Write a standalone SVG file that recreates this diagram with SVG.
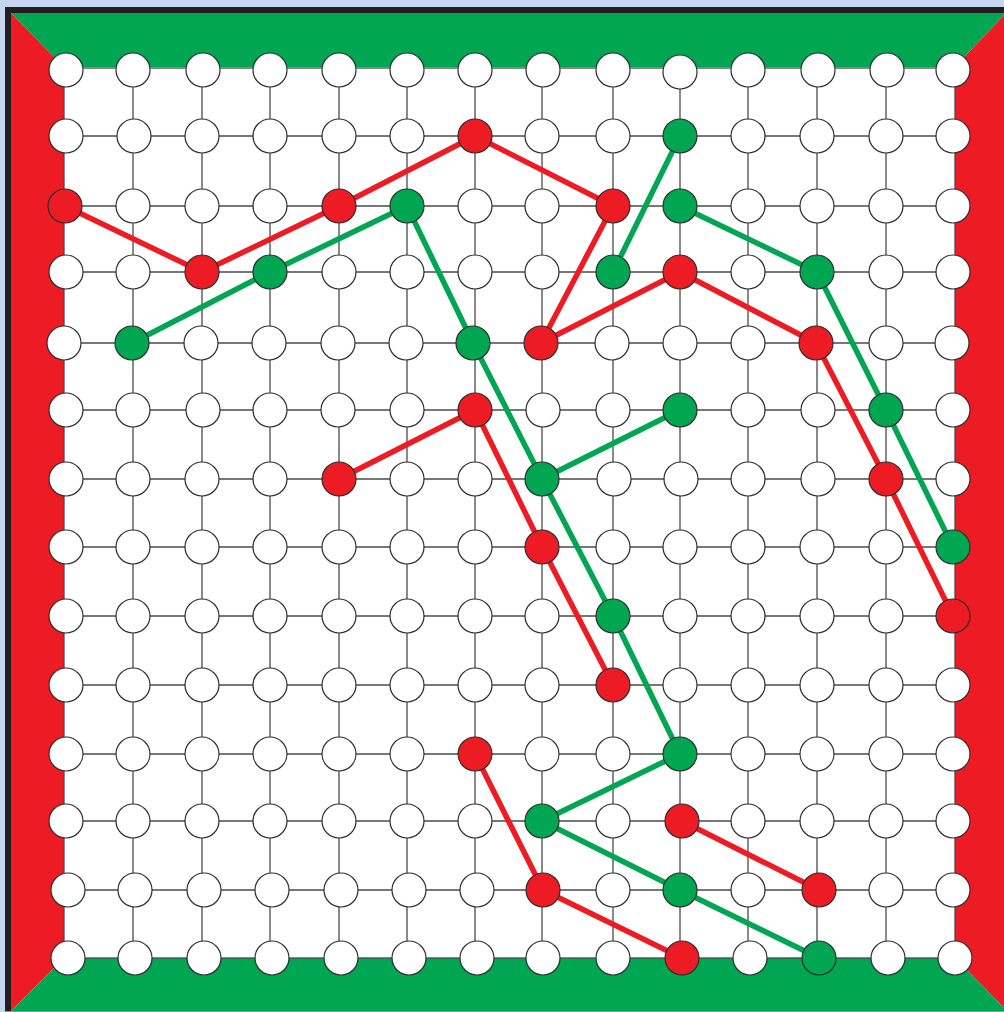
<svg xmlns="http://www.w3.org/2000/svg" width="1004" height="1012" viewBox="0 0 1004 1012">
<style>
.grid line{stroke:#4a4a4a;stroke-width:1.3}
.pegs circle{fill:#fff;stroke:#2e2e2e;stroke-width:1.2}
.pegs circle.r{fill:#ed1c24}
.pegs circle.g{fill:#00a651}
.links line{stroke-width:5.5;stroke-linecap:round}
.links .lr{stroke:#ed1c24}
.links .lg{stroke:#00a651}
</style>
<rect x="0" y="0" width="1004" height="1012" fill="#c8d5ee"/>
<rect x="5" y="7" width="1000" height="1006" fill="#231f20"/>
<g id="board">
<rect x="11" y="13" width="993" height="998" fill="#fff"/>
<polygon points="11,13 1004,13 1004,15 955,67 64,67" fill="#00a651"/>
<polygon points="11,13 64,67 64,958 11,1011" fill="#ed1c24"/>
<polygon points="1004,15 1004,1008 955,958 955,67" fill="#ed1c24"/>
<polygon points="11,1011 64,958 955,958 1004,1008 1004,1011" fill="#00a651"/>
<rect x="5" y="1011" width="999" height="1" fill="#8a96a4"/>
</g>
<g class="grid" id="grid">
<rect x="64" y="68" width="891" height="890" fill="none" stroke="#4a4a4a" stroke-width="1.3"/>
<line x1="64" y1="136" x2="955" y2="136"/>
<line x1="64" y1="206" x2="955" y2="206"/>
<line x1="64" y1="272" x2="955" y2="272"/>
<line x1="64" y1="343" x2="955" y2="343"/>
<line x1="64" y1="410" x2="955" y2="410"/>
<line x1="64" y1="479" x2="955" y2="479"/>
<line x1="64" y1="547" x2="955" y2="547"/>
<line x1="64" y1="616" x2="955" y2="616"/>
<line x1="64" y1="685" x2="955" y2="685"/>
<line x1="64" y1="754" x2="955" y2="754"/>
<line x1="64" y1="821" x2="955" y2="821"/>
<line x1="64" y1="890" x2="955" y2="890"/>
<line x1="133" y1="68" x2="133" y2="958"/>
<line x1="202" y1="68" x2="202" y2="958"/>
<line x1="270" y1="68" x2="270" y2="958"/>
<line x1="339" y1="68" x2="339" y2="958"/>
<line x1="407" y1="68" x2="407" y2="958"/>
<line x1="475" y1="68" x2="475" y2="958"/>
<line x1="542" y1="68" x2="542" y2="958"/>
<line x1="613" y1="68" x2="613" y2="958"/>
<line x1="680" y1="68" x2="680" y2="958"/>
<line x1="748" y1="68" x2="748" y2="958"/>
<line x1="817" y1="68" x2="817" y2="958"/>
<line x1="886" y1="68" x2="886" y2="958"/>
</g>
<g class="links" id="links">
<line class="lr" x1="65" y1="206" x2="202" y2="272"/>
<line class="lr" x1="202" y1="272" x2="339" y2="206"/>
<line class="lr" x1="339" y1="206" x2="475" y2="136"/>
<line class="lr" x1="475" y1="136" x2="613" y2="206"/>
<line class="lr" x1="613" y1="206" x2="541" y2="343"/>
<line class="lr" x1="541" y1="343" x2="680" y2="272"/>
<line class="lr" x1="680" y1="272" x2="816" y2="343"/>
<line class="lr" x1="816" y1="343" x2="886" y2="479"/>
<line class="lr" x1="886" y1="479" x2="953" y2="616"/>
<line class="lr" x1="339" y1="479" x2="475" y2="410"/>
<line class="lr" x1="475" y1="410" x2="542" y2="547"/>
<line class="lr" x1="542" y1="547" x2="613" y2="685"/>
<line class="lr" x1="475" y1="754" x2="543" y2="890"/>
<line class="lr" x1="543" y1="890" x2="682" y2="958"/>
<line class="lr" x1="682" y1="821" x2="819" y2="890"/>
<line class="lg" x1="680" y1="136" x2="613" y2="272"/>
<line class="lg" x1="680" y1="206" x2="817" y2="272"/>
<line class="lg" x1="817" y1="272" x2="886" y2="410"/>
<line class="lg" x1="886" y1="410" x2="953" y2="547"/>
<line class="lg" x1="132" y1="343" x2="270" y2="272"/>
<line class="lg" x1="270" y1="272" x2="407" y2="206"/>
<line class="lg" x1="407" y1="206" x2="473" y2="343"/>
<line class="lg" x1="473" y1="343" x2="542" y2="479"/>
<line class="lg" x1="542" y1="479" x2="680" y2="410"/>
<line class="lg" x1="542" y1="479" x2="613" y2="616"/>
<line class="lg" x1="613" y1="616" x2="680" y2="754"/>
<line class="lg" x1="680" y1="754" x2="542" y2="821"/>
<line class="lg" x1="542" y1="821" x2="680" y2="890"/>
<line class="lg" x1="680" y1="890" x2="819" y2="958"/>
</g>
<g class="pegs" id="pegs">
<g id="p0-0"><circle cx="66" cy="70" r="17"/></g>
<g id="p0-1"><circle cx="133" cy="70" r="17"/></g>
<g id="p0-2"><circle cx="203" cy="70" r="17"/></g>
<g id="p0-3"><circle cx="270" cy="70" r="17"/></g>
<g id="p0-4"><circle cx="339" cy="70" r="17"/></g>
<g id="p0-5"><circle cx="407" cy="70" r="17"/></g>
<g id="p0-6"><circle cx="475" cy="70" r="17"/></g>
<g id="p0-7"><circle cx="543" cy="70" r="17"/></g>
<g id="p0-8"><circle cx="613" cy="70" r="17"/></g>
<g id="p0-9"><circle cx="680" cy="72" r="17"/></g>
<g id="p0-10"><circle cx="748" cy="70" r="17"/></g>
<g id="p0-11"><circle cx="818" cy="70" r="17"/></g>
<g id="p0-12"><circle cx="887" cy="70" r="17"/></g>
<g id="p0-13"><circle cx="953" cy="70" r="17"/></g>
<g id="p1-0"><circle cx="66" cy="136" r="17"/></g>
<g id="p1-1"><circle cx="134" cy="136" r="17"/></g>
<g id="p1-2"><circle cx="202" cy="136" r="17"/></g>
<g id="p1-3"><circle cx="270" cy="136" r="17"/></g>
<g id="p1-4"><circle cx="339" cy="136" r="17"/></g>
<g id="p1-5"><circle cx="407" cy="136" r="17"/></g>
<g id="p1-6"><circle class="r" cx="475" cy="136" r="17"/></g>
<g id="p1-7"><circle cx="542" cy="136" r="17"/></g>
<g id="p1-8"><circle cx="613" cy="136" r="17"/></g>
<g id="p1-9"><circle class="g" cx="680" cy="136" r="17"/></g>
<g id="p1-10"><circle cx="748" cy="136" r="17"/></g>
<g id="p1-11"><circle cx="817" cy="136" r="17"/></g>
<g id="p1-12"><circle cx="886" cy="136" r="17"/></g>
<g id="p1-13"><circle cx="953" cy="136" r="17"/></g>
<g id="p2-0"><circle class="r" cx="65" cy="206" r="17"/></g>
<g id="p2-1"><circle cx="133" cy="206" r="17"/></g>
<g id="p2-2"><circle cx="202" cy="206" r="17"/></g>
<g id="p2-3"><circle cx="270" cy="206" r="17"/></g>
<g id="p2-4"><circle class="r" cx="339" cy="206" r="17"/></g>
<g id="p2-5"><circle class="g" cx="407" cy="206" r="17"/></g>
<g id="p2-6"><circle cx="475" cy="206" r="17"/></g>
<g id="p2-7"><circle cx="542" cy="206" r="17"/></g>
<g id="p2-8"><circle class="r" cx="613" cy="206" r="17"/></g>
<g id="p2-9"><circle class="g" cx="680" cy="206" r="17"/></g>
<g id="p2-10"><circle cx="748" cy="206" r="17"/></g>
<g id="p2-11"><circle cx="817" cy="206" r="17"/></g>
<g id="p2-12"><circle cx="886" cy="206" r="17"/></g>
<g id="p2-13"><circle cx="953" cy="206" r="17"/></g>
<g id="p3-0"><circle cx="66" cy="272" r="17"/></g>
<g id="p3-1"><circle cx="133" cy="272" r="17"/></g>
<g id="p3-2"><circle class="r" cx="202" cy="272" r="17"/></g>
<g id="p3-3"><circle class="g" cx="270" cy="272" r="17"/></g>
<g id="p3-4"><circle cx="339" cy="272" r="17"/></g>
<g id="p3-5"><circle cx="407" cy="272" r="17"/></g>
<g id="p3-6"><circle cx="475" cy="272" r="17"/></g>
<g id="p3-7"><circle cx="542" cy="272" r="17"/></g>
<g id="p3-8"><circle class="g" cx="613" cy="272" r="17"/></g>
<g id="p3-9"><circle class="r" cx="680" cy="272" r="17"/></g>
<g id="p3-10"><circle cx="748" cy="272" r="17"/></g>
<g id="p3-11"><circle class="g" cx="817" cy="272" r="17"/></g>
<g id="p3-12"><circle cx="886" cy="272" r="17"/></g>
<g id="p3-13"><circle cx="953" cy="272" r="17"/></g>
<g id="p4-0"><circle cx="64" cy="343" r="17"/></g>
<g id="p4-1"><circle class="g" cx="132" cy="343" r="17"/></g>
<g id="p4-2"><circle cx="201" cy="343" r="17"/></g>
<g id="p4-3"><circle cx="269" cy="343" r="17"/></g>
<g id="p4-4"><circle cx="338" cy="343" r="17"/></g>
<g id="p4-5"><circle cx="406" cy="343" r="17"/></g>
<g id="p4-6"><circle class="g" cx="473" cy="343" r="17"/></g>
<g id="p4-7"><circle class="r" cx="541" cy="343" r="17"/></g>
<g id="p4-8"><circle cx="612" cy="343" r="17"/></g>
<g id="p4-9"><circle cx="680" cy="343" r="17"/></g>
<g id="p4-10"><circle cx="748" cy="343" r="17"/></g>
<g id="p4-11"><circle class="r" cx="816" cy="343" r="17"/></g>
<g id="p4-12"><circle cx="886" cy="343" r="17"/></g>
<g id="p4-13"><circle cx="952" cy="343" r="17"/></g>
<g id="p5-0"><circle cx="66" cy="410" r="17"/></g>
<g id="p5-1"><circle cx="133" cy="410" r="17"/></g>
<g id="p5-2"><circle cx="203" cy="410" r="17"/></g>
<g id="p5-3"><circle cx="270" cy="410" r="17"/></g>
<g id="p5-4"><circle cx="338" cy="410" r="17"/></g>
<g id="p5-5"><circle cx="407" cy="410" r="17"/></g>
<g id="p5-6"><circle class="r" cx="475" cy="410" r="17"/></g>
<g id="p5-7"><circle cx="543" cy="410" r="17"/></g>
<g id="p5-8"><circle cx="613" cy="410" r="17"/></g>
<g id="p5-9"><circle class="g" cx="680" cy="410" r="17"/></g>
<g id="p5-10"><circle cx="748" cy="410" r="17"/></g>
<g id="p5-11"><circle cx="818" cy="410" r="17"/></g>
<g id="p5-12"><circle class="g" cx="886" cy="410" r="17"/></g>
<g id="p5-13"><circle cx="953" cy="410" r="17"/></g>
<g id="p6-0"><circle cx="66" cy="479" r="17"/></g>
<g id="p6-1"><circle cx="133" cy="479" r="17"/></g>
<g id="p6-2"><circle cx="202" cy="479" r="17"/></g>
<g id="p6-3"><circle cx="270" cy="479" r="17"/></g>
<g id="p6-4"><circle class="r" cx="339" cy="479" r="17"/></g>
<g id="p6-5"><circle cx="407" cy="479" r="17"/></g>
<g id="p6-6"><circle cx="475" cy="479" r="17"/></g>
<g id="p6-7"><circle class="g" cx="542" cy="479" r="17"/></g>
<g id="p6-8"><circle cx="614" cy="479" r="17"/></g>
<g id="p6-9"><circle cx="681" cy="479" r="17"/></g>
<g id="p6-10"><circle cx="748" cy="479" r="17"/></g>
<g id="p6-11"><circle cx="818" cy="479" r="17"/></g>
<g id="p6-12"><circle class="r" cx="886" cy="479" r="17"/></g>
<g id="p6-13"><circle cx="953" cy="479" r="17"/></g>
<g id="p7-0"><circle cx="66" cy="547" r="17"/></g>
<g id="p7-1"><circle cx="133" cy="547" r="17"/></g>
<g id="p7-2"><circle cx="202" cy="547" r="17"/></g>
<g id="p7-3"><circle cx="270" cy="547" r="17"/></g>
<g id="p7-4"><circle cx="339" cy="547" r="17"/></g>
<g id="p7-5"><circle cx="407" cy="547" r="17"/></g>
<g id="p7-6"><circle cx="475" cy="547" r="17"/></g>
<g id="p7-7"><circle class="r" cx="542" cy="547" r="17"/></g>
<g id="p7-8"><circle cx="613" cy="547" r="17"/></g>
<g id="p7-9"><circle cx="680" cy="547" r="17"/></g>
<g id="p7-10"><circle cx="748" cy="547" r="17"/></g>
<g id="p7-11"><circle cx="817" cy="547" r="17"/></g>
<g id="p7-12"><circle cx="886" cy="547" r="17"/></g>
<g id="p7-13"><circle class="g" cx="953" cy="547" r="17"/></g>
<g id="p8-0"><circle cx="66" cy="616" r="17"/></g>
<g id="p8-1"><circle cx="133" cy="616" r="17"/></g>
<g id="p8-2"><circle cx="202" cy="616" r="17"/></g>
<g id="p8-3"><circle cx="270" cy="616" r="17"/></g>
<g id="p8-4"><circle cx="339" cy="616" r="17"/></g>
<g id="p8-5"><circle cx="407" cy="616" r="17"/></g>
<g id="p8-6"><circle cx="475" cy="616" r="17"/></g>
<g id="p8-7"><circle cx="542" cy="616" r="17"/></g>
<g id="p8-8"><circle class="g" cx="613" cy="616" r="17"/></g>
<g id="p8-9"><circle cx="680" cy="616" r="17"/></g>
<g id="p8-10"><circle cx="748" cy="616" r="17"/></g>
<g id="p8-11"><circle cx="817" cy="616" r="17"/></g>
<g id="p8-12"><circle cx="886" cy="616" r="17"/></g>
<g id="p8-13"><circle class="r" cx="953" cy="616" r="17"/></g>
<g id="p9-0"><circle cx="66" cy="685" r="17"/></g>
<g id="p9-1"><circle cx="133" cy="685" r="17"/></g>
<g id="p9-2"><circle cx="202" cy="685" r="17"/></g>
<g id="p9-3"><circle cx="270" cy="685" r="17"/></g>
<g id="p9-4"><circle cx="339" cy="685" r="17"/></g>
<g id="p9-5"><circle cx="407" cy="685" r="17"/></g>
<g id="p9-6"><circle cx="475" cy="685" r="17"/></g>
<g id="p9-7"><circle cx="542" cy="685" r="17"/></g>
<g id="p9-8"><circle class="r" cx="613" cy="685" r="17"/></g>
<g id="p9-9"><circle cx="680" cy="685" r="17"/></g>
<g id="p9-10"><circle cx="748" cy="685" r="17"/></g>
<g id="p9-11"><circle cx="817" cy="685" r="17"/></g>
<g id="p9-12"><circle cx="886" cy="685" r="17"/></g>
<g id="p9-13"><circle cx="953" cy="685" r="17"/></g>
<g id="p10-0"><circle cx="66" cy="754" r="17"/></g>
<g id="p10-1"><circle cx="133" cy="754" r="17"/></g>
<g id="p10-2"><circle cx="202" cy="754" r="17"/></g>
<g id="p10-3"><circle cx="270" cy="754" r="17"/></g>
<g id="p10-4"><circle cx="339" cy="754" r="17"/></g>
<g id="p10-5"><circle cx="407" cy="754" r="17"/></g>
<g id="p10-6"><circle class="r" cx="475" cy="754" r="17"/></g>
<g id="p10-7"><circle cx="542" cy="754" r="17"/></g>
<g id="p10-8"><circle cx="613" cy="754" r="17"/></g>
<g id="p10-9"><circle class="g" cx="680" cy="754" r="17"/></g>
<g id="p10-10"><circle cx="748" cy="754" r="17"/></g>
<g id="p10-11"><circle cx="817" cy="754" r="17"/></g>
<g id="p10-12"><circle cx="886" cy="754" r="17"/></g>
<g id="p10-13"><circle cx="953" cy="754" r="17"/></g>
<g id="p11-0"><circle cx="66" cy="821" r="17"/></g>
<g id="p11-1"><circle cx="133" cy="821" r="17"/></g>
<g id="p11-2"><circle cx="202" cy="821" r="17"/></g>
<g id="p11-3"><circle cx="270" cy="821" r="17"/></g>
<g id="p11-4"><circle cx="339" cy="821" r="17"/></g>
<g id="p11-5"><circle cx="407" cy="821" r="17"/></g>
<g id="p11-6"><circle cx="475" cy="821" r="17"/></g>
<g id="p11-7"><circle class="g" cx="542" cy="821" r="17"/></g>
<g id="p11-8"><circle cx="613" cy="821" r="17"/></g>
<g id="p11-9"><circle class="r" cx="682" cy="821" r="17"/></g>
<g id="p11-10"><circle cx="748" cy="821" r="17"/></g>
<g id="p11-11"><circle cx="817" cy="821" r="17"/></g>
<g id="p11-12"><circle cx="886" cy="821" r="17"/></g>
<g id="p11-13"><circle cx="953" cy="821" r="17"/></g>
<g id="p12-0"><circle cx="68" cy="890" r="17"/></g>
<g id="p12-1"><circle cx="135" cy="890" r="17"/></g>
<g id="p12-2"><circle cx="204" cy="890" r="17"/></g>
<g id="p12-3"><circle cx="272" cy="890" r="17"/></g>
<g id="p12-4"><circle cx="341" cy="890" r="17"/></g>
<g id="p12-5"><circle cx="409" cy="890" r="17"/></g>
<g id="p12-6"><circle cx="477" cy="890" r="17"/></g>
<g id="p12-7"><circle class="r" cx="543" cy="890" r="17"/></g>
<g id="p12-8"><circle cx="613" cy="890" r="17"/></g>
<g id="p12-9"><circle class="g" cx="680" cy="890" r="17"/></g>
<g id="p12-10"><circle cx="748" cy="890" r="17"/></g>
<g id="p12-11"><circle class="r" cx="819" cy="890" r="17"/></g>
<g id="p12-12"><circle cx="886" cy="890" r="17"/></g>
<g id="p12-13"><circle cx="953" cy="890" r="17"/></g>
<g id="p13-0"><circle cx="68" cy="958" r="17"/></g>
<g id="p13-1"><circle cx="135" cy="958" r="17"/></g>
<g id="p13-2"><circle cx="204" cy="958" r="17"/></g>
<g id="p13-3"><circle cx="272" cy="958" r="17"/></g>
<g id="p13-4"><circle cx="341" cy="958" r="17"/></g>
<g id="p13-5"><circle cx="409" cy="958" r="17"/></g>
<g id="p13-6"><circle cx="477" cy="958" r="17"/></g>
<g id="p13-7"><circle cx="543" cy="958" r="17"/></g>
<g id="p13-8"><circle cx="613" cy="958" r="17"/></g>
<g id="p13-9"><circle class="r" cx="682" cy="958" r="17"/></g>
<g id="p13-10"><circle cx="750" cy="958" r="17"/></g>
<g id="p13-11"><circle class="g" cx="819" cy="958" r="17"/></g>
<g id="p13-12"><circle cx="888" cy="958" r="17"/></g>
<g id="p13-13"><circle cx="955" cy="958" r="17"/></g>
</g>
</svg>
